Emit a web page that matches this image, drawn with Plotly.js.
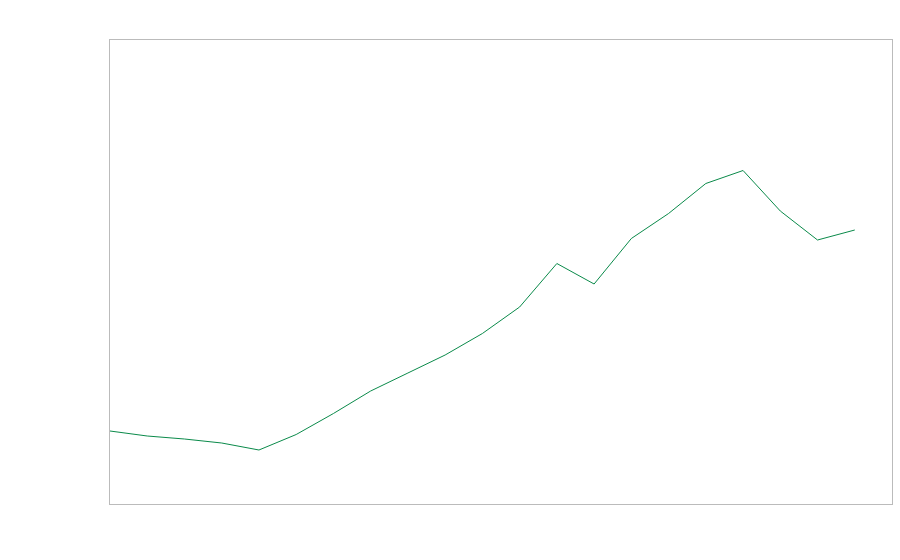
<!DOCTYPE html>
<html>
<head>
<meta charset="utf-8">
<script src="https://cdn.plot.ly/plotly-3.0.1.min.js"></script>
<style>html,body{margin:0;padding:0;background:#fff;}#chart{width:900px;height:560px;}</style>
</head>
<body>
<div id="chart"></div>
<script>
const periods = [0,1,2,3,4,5,6,7,8,9,10,11,12,13,14,15,16,17,18,19,20];
const values = [73,68,65,61,54,69.5,90.5,113,131,149,170.5,197,240.5,220,265.5,290.5,320.5,333.5,293,264,274];

const trace = {
  x: periods,
  y: values,
  type: 'scatter',
  mode: 'lines',
  line: {color: '#0a8a4a', width: 1},
  hoverinfo: 'none'
};

const layout = {
  width: 900,
  height: 560,
  margin: {l: 110, r: 8, t: 40, b: 56},
  paper_bgcolor: '#ffffff',
  plot_bgcolor: '#ffffff',
  showlegend: false,
  xaxis: {
    range: [0, 21],
    showgrid: false, zeroline: false, showticklabels: false, ticks: '',
    showline: true, linecolor: '#bbbbbb', linewidth: 1, mirror: true
  },
  yaxis: {
    range: [0, 464],
    showgrid: false, zeroline: false, showticklabels: false, ticks: '',
    showline: true, linecolor: '#bbbbbb', linewidth: 1, mirror: true
  }
};

Plotly.newPlot('chart', [trace], layout, {displayModeBar: false, staticPlot: true});
</script>
</body>
</html>
